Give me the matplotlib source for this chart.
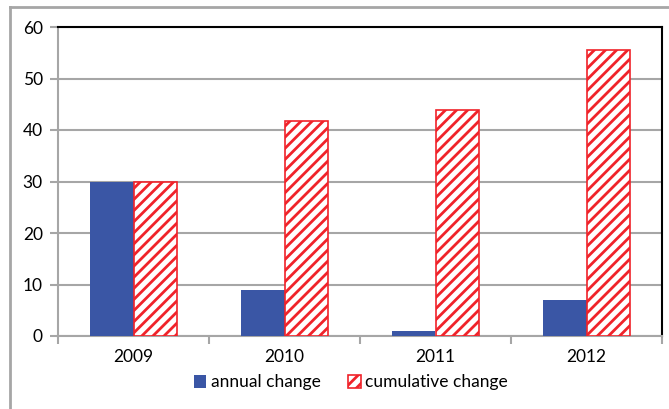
import numpy as np
import matplotlib.pyplot as plt
from matplotlib.lines import Line2D

# valores por ano
anos = ['2009', '2010', '2011', '2012']
variacao_anual = [29.9, 9.0, 0.9, 7.0]
variacao_acumulada = [29.9, 41.8, 43.9, 55.6]

azul = '#3a56a5'
vermelho = '#f0232a'
cinza = '#a6a6a6'

plt.rcParams['font.family'] = ['Lato', 'DejaVu Sans']
plt.rcParams['hatch.linewidth'] = 2.0
plt.rcParams['hatch.color'] = vermelho

fig = plt.figure(figsize=(6.69, 4.09), dpi=100)
ax = fig.add_axes([58 / 669, 1 - 336 / 409, 604 / 669, 309 / 409])

x = np.arange(len(anos))
largura = 0.285
ax.bar(x - largura / 2, variacao_anual, largura, color=azul,
       label='annual change', zorder=3)
ax.bar(x + largura / 2, variacao_acumulada, largura, color='white',
       edgecolor=vermelho, hatch='///', linewidth=1.2,
       label='cumulative change', zorder=3)

ax.set_xlim(-0.5, len(anos) - 0.5)
ax.set_ylim(0, 60)
ax.set_yticks(range(0, 61, 10))
ax.set_xticks(x)
ax.set_xticklabels(anos)
ax.set_xticks(np.arange(-0.5, len(anos)), minor=True)
ax.tick_params(axis='x', which='major', length=0, pad=9, labelsize=12.5)
ax.tick_params(axis='x', which='minor', length=6, color=cinza, width=1.5)
ax.tick_params(axis='y', length=6, color=cinza, width=1.5, pad=5,
               labelsize=12.5)

ax.grid(axis='y', color=cinza, linewidth=1.5, zorder=0)
for lado in ['left', 'bottom']:
    ax.spines[lado].set_color(cinza)
    ax.spines[lado].set_linewidth(1.5)
for lado in ['top', 'right']:
    ax.spines[lado].set_color('black')
    ax.spines[lado].set_linewidth(1.5)

ax.legend(loc='upper center', bbox_to_anchor=(0.485, -0.085), ncol=2,
          frameon=False, fontsize=12.5, handlelength=0.7, handleheight=0.8,
          handletextpad=0.25, columnspacing=1.6, borderpad=0.2)

# moldura externa cinza
fig.add_artist(Line2D([10 / 669, 10 / 669], [0, 1 - 7 / 409],
                      color=cinza, linewidth=2))
fig.add_artist(Line2D([10 / 669, 1], [1 - 7 / 409, 1 - 7 / 409],
                      color=cinza, linewidth=2))

fig.savefig('out.png', dpi=100)
